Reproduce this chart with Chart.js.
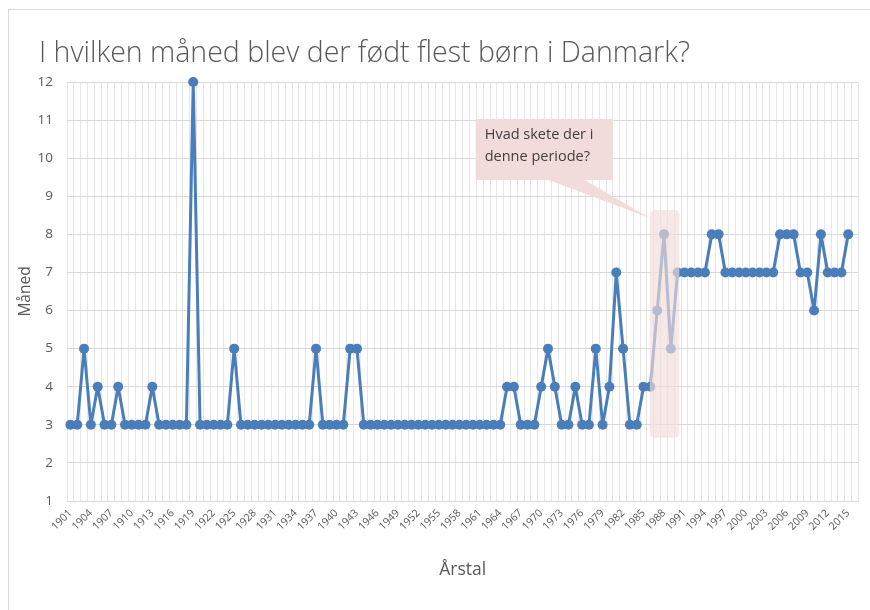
<!DOCTYPE html>
<html>
<head>
<meta charset="utf-8">
<script src="https://cdn.jsdelivr.net/npm/chart.js@4.4.1/dist/chart.umd.min.js"></script>
<style>
  html, body { margin: 0; padding: 0; background: #fff; }
  #wrap { position: relative; width: 870px; height: 610px; overflow: hidden; }
  #frame { position: absolute; left: 8px; top: 9px; width: 900px; height: 700px; border: 1px solid #d9d9d9; }
  canvas { position: absolute; left: 0; top: 0; }
</style>
</head>
<body>
<div id="wrap">
  <div id="frame"></div>
  <canvas id="c_born" width="870" height="610"></canvas>
</div>
<script>
// Data
const years = [
    '1901', '1902', '1903', '1904', '1905', '1906', '1907', '1908', '1909', '1910',
    '1911', '1912', '1913', '1914', '1915', '1916', '1917', '1918', '1919', '1920',
    '1921', '1922', '1923', '1924', '1925', '1926', '1927', '1928', '1929', '1930',
    '1931', '1932', '1933', '1934', '1935', '1936', '1937', '1938', '1939', '1940',
    '1941', '1942', '1943', '1944', '1945', '1946', '1947', '1948', '1949', '1950',
    '1951', '1952', '1953', '1954', '1955', '1956', '1957', '1958', '1959', '1960',
    '1961', '1962', '1963', '1964', '1965', '1966', '1967', '1968', '1969', '1970',
    '1971', '1972', '1973', '1974', '1975', '1976', '1977', '1978', '1979', '1980',
    '1981', '1982', '1983', '1984', '1985', '1986', '1987', '1988', '1989', '1990',
    '1991', '1992', '1993', '1994', '1995', '1996', '1997', '1998', '1999', '2000',
    '2001', '2002', '2003', '2004', '2005', '2006', '2007', '2008', '2009', '2010',
    '2011', '2012', '2013', '2014', '2015', '2016'
]
// month with most births, one per year (2016 has no value)
const months = [
    3, 3, 5, 3, 4, 3, 3, 4, 3, 3,
    3, 3, 4, 3, 3, 3, 3, 3, 12, 3,
    3, 3, 3, 3, 5, 3, 3, 3, 3, 3,
    3, 3, 3, 3, 3, 3, 5, 3, 3, 3,
    3, 5, 5, 3, 3, 3, 3, 3, 3, 3,
    3, 3, 3, 3, 3, 3, 3, 3, 3, 3,
    3, 3, 3, 3, 4, 4, 3, 3, 3, 4,
    5, 4, 3, 3, 4, 3, 3, 5, 3, 4,
    7, 5, 3, 3, 4, 4, 6, 8, 5, 7,
    7, 7, 7, 7, 8, 8, 7, 7, 7, 7,
    7, 7, 7, 7, 8, 8, 8, 7, 7, 6,
    8, 7, 7, 7, 8, null
]
const yTicks = [1, 2, 3, 4, 5, 6, 7, 8, 9, 10, 11, 12]
const labelEvery = 3

const chartTitle = 'I hvilken måned blev der født flest børn i Danmark?'
const xTitle = 'Årstal'
const yTitle = 'Måned'
const noteLines = ['Hvad skete der i', 'denne periode?']
// Data EOF

const FONT = "'Open Sans', 'Noto Sans', sans-serif"
const GREY = '#595959'
const BLUE = '#4a7ebb'
const PINK = '242,220,219'

// **** annotation plugin (title + callout + highlight)
const notePlugin = {
    id: 'notePlugin',
    afterDatasetsDraw(chart) {
        const { ctx } = chart
        const x = chart.scales.x
        const y = chart.scales.y
        const xAt = yr => x.getPixelForValue(yr - 1901)

        // highlight over 1986 - 1990
        let l = xAt(1985.92), r = xAt(1990.25)
        let t = y.getPixelForValue(8.64), b = y.getPixelForValue(2.66)
        ctx.save()
        ctx.fillStyle = `rgba(${PINK},0.66)`
        ctx.beginPath()
        ctx.roundRect(l, t, r - l, b - t, 5)
        ctx.fill()

        // callout box
        let bl = xAt(1960.4), br = xAt(1980.5)
        let bt = y.getPixelForValue(11.03), bb = y.getPixelForValue(9.43)
        ctx.fillStyle = `rgb(${PINK})`
        ctx.beginPath()
        ctx.moveTo(bl, bt)
        ctx.lineTo(br, bt)
        ctx.lineTo(br, bb)
        ctx.lineTo(xAt(1976.4), bb)
        ctx.lineTo(xAt(1986), y.getPixelForValue(8.42))
        ctx.lineTo(xAt(1971.1), bb)
        ctx.lineTo(bl, bb)
        ctx.closePath()
        ctx.fill()

        ctx.fillStyle = '#404040'
        ctx.font = `14.5px ${FONT}`
        ctx.textBaseline = 'alphabetic'
        noteLines.forEach((s, i) => {
            ctx.fillText(s, bl + 9, bt + 20 + i * 22)
        })
        ctx.restore()
    },
    afterDraw(chart) {
        const { ctx } = chart
        ctx.save()
        ctx.fillStyle = GREY
        ctx.font = `300 28.5px ${FONT}`
        ctx.textBaseline = 'alphabetic'
        ctx.fillText(chartTitle, 39, 62)
        ctx.restore()
    }
}
// **** EOF

var ctx = document.getElementById('c_born').getContext('2d')
new Chart(ctx, {
    type: 'line',
    data: {
        labels: years,
        datasets: [{
            label: yTitle,
            data: months,
            borderColor: BLUE,
            backgroundColor: BLUE,
            borderWidth: 3,
            borderJoinStyle: 'round',
            pointRadius: 5,
            pointBorderWidth: 0,
            pointHoverRadius: 5,
            tension: 0,
            clip: false,
            spanGaps: false
        }]
    },
    options: {
        responsive: false,
        animation: false,
        events: [],
        layout: {
            padding: { left: 8, top: 82, right: 10, bottom: 0 }
        },
        plugins: {
            legend: { display: false },
            title: { display: false },
            tooltip: { enabled: false }
        },
        scales: {
            x: {
                type: 'category',
                offset: true,
                afterFit: s => { s.height = 109 },
                grid: { offset: true, color: '#e6e6e6', drawTicks: false, lineWidth: 1 },
                border: { color: '#d9d9d9' },
                ticks: {
                    autoSkip: false,
                    maxRotation: 45,
                    minRotation: 45,
                    padding: 6,
                    color: GREY,
                    font: { family: FONT, size: 10.5 },
                    callback: function (v, i) {
                        return i % labelEvery === 0 ? this.getLabelForValue(v) : ''
                    }
                },
                title: {
                    display: true,
                    text: xTitle,
                    color: GREY,
                    font: { family: FONT, size: 17.5 },
                    padding: { top: 0, bottom: 29 }
                }
            },
            y: {
                min: yTicks[0],
                max: yTicks[yTicks.length - 1],
                afterFit: s => { s.width = 59 },
                afterBuildTicks: s => { s.ticks = yTicks.map(v => ({ value: v })) },
                grid: { color: '#d9d9d9', drawTicks: false },
                border: { display: false },
                ticks: {
                    padding: 14,
                    color: GREY,
                    font: { family: FONT, size: 13.5 }
                },
                title: {
                    display: true,
                    text: yTitle,
                    color: GREY,
                    font: { family: FONT, size: 15.5 },
                    padding: { top: 8, bottom: 0 }
                }
            }
        }
    },
    plugins: [notePlugin]
})
</script>
</body>
</html>
